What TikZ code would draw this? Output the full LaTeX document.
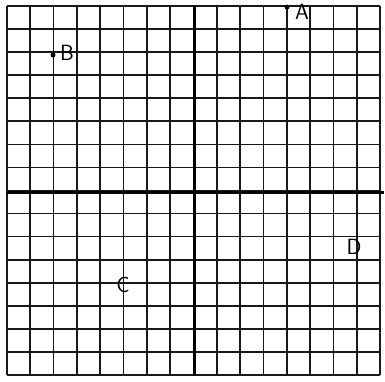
\documentclass[tikz,border=0pt]{standalone}
\begin{document}
\begin{tikzpicture}[x=1pt,y=-1pt,
  gridline/.style={line width=1.7pt,black!90},
  axisline/.style={line width=3pt,black},
  ptdot/.style={circle,fill=black,inner sep=0pt,minimum size=5pt},
  ptlabel/.style={font=\sffamily\fontsize{22}{22}\selectfont,inner sep=0pt}]
\useasboundingbox (0,0) rectangle (385,381);
\fill[white] (0,0) rectangle (385,381);
% grid: 16 x 16 cells
\foreach \i in {0,...,16}{
  \draw[gridline] ({7+\i*23.3125},6) -- ({7+\i*23.3125},375);
  \draw[gridline] (7,{6+\i*23.06}) -- (380,{6+\i*23.06});
}
% axes
\coordinate (xl) at (7,192);
\coordinate (xr) at (384,192);
\coordinate (yt) at (194,6);
\coordinate (yb) at (194,375);
\draw[axisline] (xl) -- (xr);
\draw[axisline] (yt) -- (yb);
% points
\node[ptdot] (Adot) at (287,7) {};
\node[ptlabel] (A) at (302,12) {A};
\node[ptdot] (Bdot) at (53,55) {};
\node[ptlabel] (B) at (67,53) {B};
\node[ptlabel] (C) at (123,285) {C};
\node[ptlabel] (D) at (354,247) {D};
\end{tikzpicture}
\end{document}
